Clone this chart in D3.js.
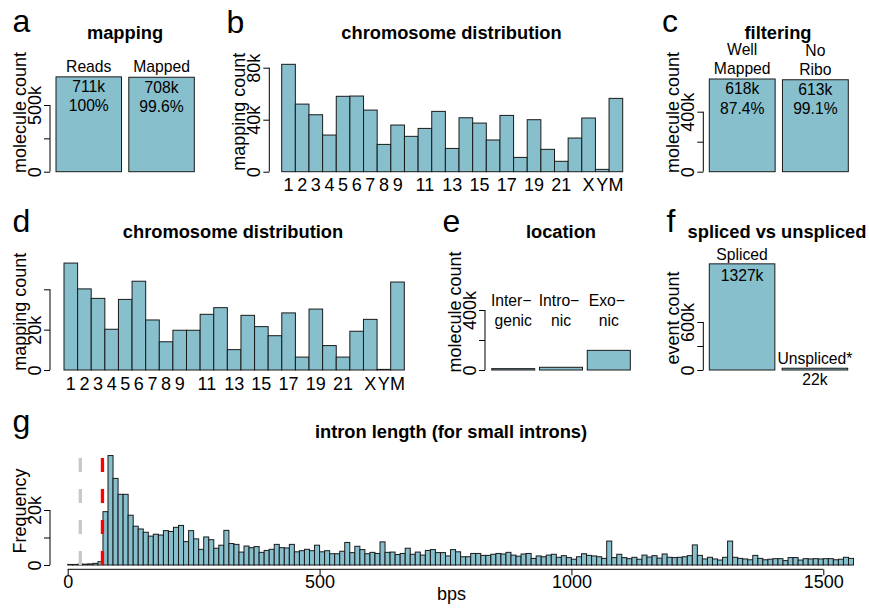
<!DOCTYPE html>
<html>
<head>
<meta charset="utf-8">
<script src="https://cdn.jsdelivr.net/npm/d3@7"></script>
<style>
  body { margin: 0; background: #fff; }
</style>
</head>
<body>
<div id="chart"></div>
<script>
// ---- data ----
const mappingLabels = ['Reads', 'Mapped'];
const mappingCounts = [711000, 708000];
const mappingPct = ['100%', '99.6%'];

const chromosomes = ['1','2','3','4','5','6','7','8','9','10','11','12','13','14','15','16','17','18','19','20','21','22','X','Y','M'];
const chrLabelsShown = ['1','2','3','4','5','6','7','8','9','11','13','15','17','19','21','X','Y','M'];
const chrCountsB = [82.6, 52, 43.8, 28.2, 58, 58.2, 47.4, 21, 35.9, 27.2, 33.3, 46.4, 17.9, 41.5, 37.4, 24.4, 43.3, 11, 40, 17.2, 8, 25.9, 41.3, 1.8, 56.4];
const chrCountsD = [53, 40.2, 35.5, 20.2, 35, 44, 24.8, 14, 19.7, 19.7, 27.6, 30.9, 10.1, 27.1, 21.5, 17, 28.3, 6.4, 30.2, 12.1, 6.4, 19.2, 25.1, 0.3, 43.6];

const filterLabels = [['Well', 'Mapped'], ['No', 'Ribo']];
const filterCounts = [618000, 613000];
const filterPct = ['87.4%', '99.1%'];

const locationLabels = [['Inter\u2212', 'genic'], ['Intro\u2212', 'nic'], ['Exo\u2212', 'nic']];
const locationCounts = [9000, 18000, 131000];

const spliceLabels = ['Spliced', 'Unspliced*'];
const spliceCounts = [1327000, 22000];
const spliceText = ['1327k', '22k'];

// intron length histogram, 10 bp bins from 0 to 1560, counts in thousands
const binWidth = 10;
const intronCounts = [
  0.2, 0.2, 0.3, 0.3, 0.4, 0.6, 1.2,
  19.4, 39.8, 31.5, 25.7, 25.7, 18.1, 14.1, 13.1, 11.9, 10.5, 11.2, 10.9, 12.5, 12.2, 13.7, 14.4, 8.5, 12.5, 9.5, 5.7, 10.2, 9.2, 6.1, 7.2,
  12.6, 7.8, 7.5, 4.7, 6.9, 6.3, 6.7, 4.6, 5.3, 5.7, 7.5, 6.3, 6.2, 7.5, 4.8, 5.2, 5.7, 5.2, 7.2, 4.8, 5.2, 4.1, 4.1, 5.0, 8.2, 4.5, 6.8, 5.6, 4.1, 4.6,
  4.2, 8.4, 4.6, 4.7, 3.8, 4.2, 6.1, 3.9, 4.7, 3.6, 5.3, 5.6, 4.5, 4.5, 3.3, 5.6, 4.8, 3.0, 3.0, 4.2, 4.2, 3.5, 3.5, 3.9, 4.2, 4.0, 4.6, 3.6, 3.2, 4.0, 4.2,
  2.4, 3.3, 3.0, 3.6, 3.9, 2.8, 3.4, 2.7, 2.1, 3.0, 4.1, 3.5, 3.3, 3.0, 2.4, 8.7, 2.7, 3.9, 2.7, 2.3, 2.8, 2.1, 3.6, 2.9, 3.4, 2.5, 4.0, 2.8, 2.7, 2.8, 3.0, 3.4,
  7.3, 3.5, 2.2, 2.8, 2.2, 1.8, 2.8, 8.7, 2.8, 2.4, 2.2, 1.9, 3.5, 2.4, 1.9, 2.1, 2.3, 2.3, 1.6, 2.7, 2.7, 1.8, 2.3, 2.2, 2.3, 2.2, 2.3, 2.3, 1.9, 2.1, 2.8, 2.4
];
const intronTicks = [0, 500, 1000, 1500];
const cutoffs = [25, 69];

// ---- drawing ----
const FONT = '"Liberation Sans", Arial, Helvetica, sans-serif';
const FILL = '#87bfcd';
const EDGE = '#1a1a1a';

const svg = d3.select('#chart').append('svg')
    .attr('width', 869)
    .attr('height', 608)
    .attr('font-family', FONT);

const fmtK = d => d === 0 ? '0' : (d / 1000) + 'k';

function letter(t, x, y) {
  svg.append('text').attr('x', x).attr('y', y).attr('font-size', 32).text(t);
}

function title(t, x, y) {
  svg.append('text').attr('x', x).attr('y', y).attr('text-anchor', 'middle')
      .attr('font-size', 18.3).attr('font-weight', 'bold').text(t);
}

// R-style left axis: line from first to last tick, rotated labels
function yAxis(y, ticks, labeled, x, label, labelY) {
  const g = svg.append('g').attr('transform', `translate(${x},0)`);
  g.call(d3.axisLeft(y).tickValues(ticks).tickSize(6).tickSizeOuter(0)
      .tickFormat(d => labeled.includes(d) ? fmtK(d) : ''));
  g.attr('font-size', 18).attr('font-family', FONT);
  g.select('.domain').remove();
  g.append('line')
      .attr('y1', y(ticks[0])).attr('y2', y(ticks[ticks.length - 1]))
      .attr('stroke', '#000');
  g.selectAll('.tick line').attr('stroke', '#000');
  g.selectAll('.tick text')
      .attr('transform', 'rotate(-90)')
      .attr('x', 0).attr('y', -9).attr('dy', null)
      .attr('text-anchor', 'middle').attr('fill', '#000');
  g.append('text')
      .attr('transform', `translate(-24.5,${labelY}) rotate(-90)`)
      .attr('text-anchor', 'middle').attr('fill', '#000')
      .text(label);
}

function bars(data, x, y) {
  svg.append('g').selectAll('rect')
    .data(data)
    .join('rect')
      .attr('x', d => x(d.key))
      .attr('width', x.bandwidth())
      .attr('y', d => y(d.value))
      .attr('height', d => y(0) - y(d.value))
      .attr('fill', FILL)
      .attr('stroke', EDGE)
      .attr('stroke-width', 1);
}

function note(t, x, y) {
  svg.append('text').attr('x', x).attr('y', y).attr('text-anchor', 'middle')
      .attr('font-size', 15.7).text(t);
}

// a: mapping
{
  const y = d3.scaleLinear([0, 500000], [171.7, 105]);
  const x = d3.scaleBand(mappingLabels, [56, 194.3]).paddingInner(0.1);
  bars(mappingLabels.map((k, i) => ({key: k, value: mappingCounts[i]})), x, y);
  yAxis(y, [0, 250000, 500000], [0, 500000], 50, 'molecule count', 112.5);
  mappingLabels.forEach((k, i) => {
    const cx = x(k) + x.bandwidth() / 2, top = y(mappingCounts[i]);
    note(k, cx, top - 5);
    note(Math.round(mappingCounts[i] / 1000) + 'k', cx, top + 15.5);
    note(mappingPct[i], cx, top + 34.5);
  });
  letter('a', 12.5, 32);
  title('mapping', 125, 38.5);
}

// b and d: chromosome distribution
function chromPanel(counts, yMax, y0, yTop, x0, x1, ticks, labeled, axisX, labelY) {
  const y = d3.scaleLinear([0, yMax], [y0, yTop]);
  const x = d3.scaleBand(chromosomes, [x0, x1]).padding(0);
  bars(chromosomes.map((k, i) => ({key: k, value: counts[i] * 1000})), x, y);
  yAxis(y, ticks, labeled, axisX, 'mapping count', labelY);
  svg.append('g').selectAll('text')
    .data(chromosomes.filter(c => chrLabelsShown.includes(c)))
    .join('text')
      .attr('x', d => x(d) + x.bandwidth() / 2)
      .attr('y', y0 + 19.5)
      .attr('text-anchor', 'middle')
      .attr('font-size', 18)
      .text(d => d);
}

chromPanel(chrCountsB, 80000, 171.7, 67.7, 281.7, 622.7, [0, 40000, 80000], [0, 40000, 80000], 269.3, 111.7);
letter('b', 226.5, 33);
title('chromosome distribution', 451.5, 38.5);

chromPanel(chrCountsD, 40000, 370, 289.3, 64, 404.3, [0, 20000, 40000], [0, 20000], 50, 311.7);
letter('d', 12.5, 232);
title('chromosome distribution', 233, 237.5);

// c: filtering
{
  const keys = filterLabels.map(l => l.join(' '));
  const y = d3.scaleLinear([0, 400000], [171.7, 111.7]);
  const x = d3.scaleBand(keys, [709.3, 848.3]).paddingInner(0.1);
  bars(keys.map((k, i) => ({key: k, value: filterCounts[i]})), x, y);
  yAxis(y, [0, 200000, 400000], [0, 400000], 703.3, 'molecule count', 112.5);
  keys.forEach((k, i) => {
    const cx = x(k) + x.bandwidth() / 2, top = y(filterCounts[i]);
    note(filterLabels[i][0], cx, top - 24);
    note(filterLabels[i][1], cx, top - 5);
    note(Math.round(filterCounts[i] / 1000) + 'k', cx, top + 15);
    note(filterPct[i], cx, top + 34.5);
  });
  letter('c', 662, 32);
  title('filtering', 778, 38.5);
}

// e: location
{
  const keys = locationLabels.map(l => l.join(''));
  const y = d3.scaleLinear([0, 400000], [370, 310]);
  const x = d3.scaleBand(keys, [491.7, 630.3]).paddingInner(0.1);
  bars(keys.map((k, i) => ({key: k, value: locationCounts[i]})), x, y);
  yAxis(y, [0, 200000, 400000], [0, 400000], 485, 'molecule count', 312);
  keys.forEach((k, i) => {
    const cx = x(k) + x.bandwidth() / 2;
    note(locationLabels[i][0], cx - 2, 306);
    note(locationLabels[i][1], cx, 325.5);
  });
  letter('e', 442.5, 231.5);
  title('location', 561, 237.5);
}

// f: spliced vs unspliced
{
  const y = d3.scaleLinear([0, 600000], [370, 322]);
  const x = d3.scaleBand(spliceLabels, [709.3, 847.7]).paddingInner(0.1);
  bars(spliceLabels.map((k, i) => ({key: k, value: spliceCounts[i]})), x, y);
  yAxis(y, [0, 300000, 600000], [0, 600000], 703.3, 'event count', 318);
  spliceLabels.forEach((k, i) => {
    const cx = x(k) + x.bandwidth() / 2, top = y(spliceCounts[i]);
    note(k, cx, top - 4);
    note(spliceText[i], cx, top + 17);
  });
  letter('f', 666.5, 232);
  title('spliced vs unspliced', 777, 237.5);
}

// g: intron length histogram
{
  const x = d3.scaleLinear([0, 1500], [67.7, 823.3]);
  const y = d3.scaleLinear([0, 20000], [565, 510]);
  const bins = intronCounts.map((c, i) => ({x0: i * binWidth, x1: (i + 1) * binWidth, value: c * 1000}));

  svg.append('g').selectAll('rect')
    .data(bins)
    .join('rect')
      .attr('x', d => x(d.x0))
      .attr('width', d => x(d.x1) - x(d.x0))
      .attr('y', d => y(d.value))
      .attr('height', d => y(0) - y(d.value))
      .attr('fill', FILL)
      .attr('stroke', EDGE)
      .attr('stroke-width', 1);

  const colors = ['#c8c8c8', '#ff0000'];
  svg.append('g').selectAll('line')
    .data(cutoffs)
    .join('line')
      .attr('x1', d => x(d)).attr('x2', d => x(d))
      .attr('y1', 458).attr('y2', 567)
      .attr('stroke', (d, i) => colors[i])
      .attr('stroke-width', 3.3)
      .attr('stroke-dasharray', '14,17');

  const gx = svg.append('g').attr('transform', 'translate(0,569.3)');
  gx.call(d3.axisBottom(x).tickValues(intronTicks).tickFormat(d3.format('d'))
      .tickSize(6).tickPadding(0).tickSizeOuter(0));
  gx.attr('font-size', 18).attr('font-family', FONT);
  gx.select('.domain').remove();
  gx.append('line').attr('x1', x(0)).attr('x2', x(1500)).attr('stroke', '#000');
  gx.selectAll('.tick line').attr('stroke', '#000');
  gx.selectAll('.tick text').attr('fill', '#000');

  yAxis(y, [0, 10000, 20000], [0, 20000], 50, 'Frequency', 511);

  svg.append('text').attr('x', 451.5).attr('y', 600).attr('text-anchor', 'middle')
      .attr('font-size', 18).text('bps');
  letter('g', 12.5, 431.5);
  title('intron length (for small introns)', 451, 437.5);
}
</script>
</body>
</html>
